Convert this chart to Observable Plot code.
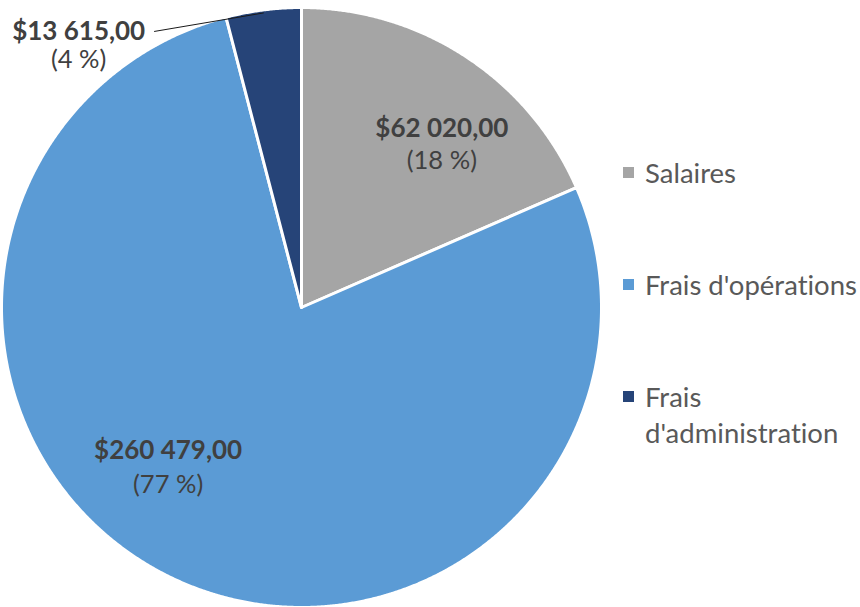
<!DOCTYPE html>
<html><head><meta charset="utf-8">
<script src="https://cdn.jsdelivr.net/npm/d3@7"></script>
<script src="https://cdn.jsdelivr.net/npm/@observablehq/plot@0.6"></script>
<style>
body{margin:0;background:#fff;}
#wrap{position:relative;width:860px;height:607px;overflow:hidden;font-variant-ligatures:none;}
#legend{position:absolute;left:623px;top:0;font-family:Lato, sans-serif;font-size:27.5px;color:#595959;}
.item{position:absolute;left:0;width:237px;}
.sw{position:absolute;left:0;top:12px;width:11px;height:11px;}
.tx{margin-left:22px;line-height:36px;}
svg text{font-variant-ligatures:none;}
</style></head><body><div id="wrap"><div id="legend"></div></div>
<script>
const categories = ["Salaires", "Frais d'opérations", "Frais d'administration"];
const values = [62020, 260479, 13615];
const colors = ["#A5A5A5", "#5B9BD5", "#264478"];

// label placement (Excel "best fit" emulation): angle in degrees clockwise from north, radius as fraction of pie radius
const labelLayout = [
  {angle: 40.8, r: 0.716, gap: 16},
  {angle: 219.7, r: 0.696, gap: 17},
  {angle: 319.6, r: 1.146, gap: 14.5}
];
const leader = {startAngle: 331.9, startR: 1.043, endR: 0.99};
const pieRadiusPx = 300;

const loc = d3.formatLocale({decimal: ",", thousands: "\u00a0", grouping: [3], currency: ["$", ""]});
const fmt = loc.format("$,.2f");
const total = d3.sum(values);
let acc = 0;
const slices = categories.map((c, i) => {
  const a0 = acc / total * 2 * Math.PI; acc += values[i];
  const a1 = acc / total * 2 * Math.PI;
  return {name: c, value: values[i], a0, a1, mid: (a0 + a1) / 2};
});
const pts = slices.flatMap(s => {
  const n = Math.max(2, Math.ceil((s.a1 - s.a0) / (Math.PI / 720)));
  const arr = [{name: s.name, x: 0, y: 0}];
  for (let k = 0; k <= n; k++) {
    const a = s.a0 + (s.a1 - s.a0) * k / n;
    arr.push({name: s.name, x: Math.sin(a), y: Math.cos(a)});
  }
  arr.push({name: s.name, x: 0, y: 0});
  return arr;
});
const rad = d => d * Math.PI / 180;
const labels = slices.map((s, i) => {
  const L = labelLayout[i];
  const x = L.r * Math.sin(rad(L.angle)), y = L.r * Math.cos(rad(L.angle));
  return {
    x, yTop: y + L.gap / pieRadiusPx, yBottom: y - L.gap / pieRadiusPx,
    valueText: fmt(s.value),
    pctText: "(" + Math.round(s.value / total * 100) + "\u00a0%)"
  };
});
const adm = slices[2];
const links = [{
  x1: leader.startR * Math.sin(rad(leader.startAngle)), y1: leader.startR * Math.cos(rad(leader.startAngle)),
  x2: leader.endR * Math.sin(adm.mid), y2: leader.endR * Math.cos(adm.mid)
}];

const chart = Plot.plot({
  width: 860, height: 607,
  marginLeft: 1, marginRight: 259, marginTop: 7, marginBottom: 0,
  x: {domain: [-1, 1], axis: null},
  y: {domain: [-1, 1], axis: null},
  color: {domain: categories, range: colors},
  style: {fontFamily: "Lato, sans-serif", background: "white"},
  marks: [
    Plot.line(pts, {x: "x", y: "y", z: "name", fill: "name", stroke: "white", strokeWidth: 3, strokeLinejoin: "round"}),
    Plot.link(links, {x1: "x1", y1: "y1", x2: "x2", y2: "y2", stroke: "#1a1a1a", strokeWidth: 1}),
    Plot.text(labels, {x: "x", y: "yTop", text: "valueText", fontWeight: "bold", fontSize: 26, fill: "#404040"}),
    Plot.text(labels, {x: "x", y: "yBottom", text: "pctText", fontSize: 25.5, fill: "#404040"})
  ]
});
document.getElementById("wrap").prepend(chart);

const legendTops = [155, 267, 379];
const lg = document.getElementById("legend");
categories.forEach((c, i) => {
  const it = document.createElement("div");
  it.className = "item"; it.style.top = legendTops[i] + "px";
  it.innerHTML = `<div class="sw" style="background:${colors[i]}"></div><div class="tx">${c}</div>`;
  lg.appendChild(it);
});
</script>
</body></html>
